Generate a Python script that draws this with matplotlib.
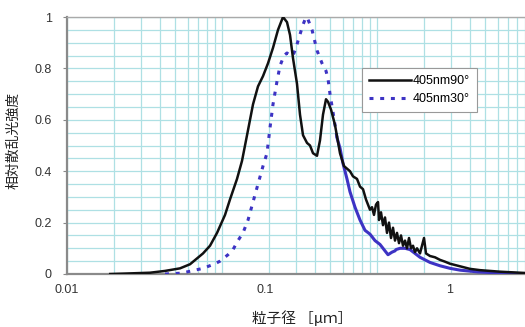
import matplotlib
matplotlib.use("Agg")
import matplotlib.pyplot as plt
from matplotlib.ticker import LogLocator, MultipleLocator, NullFormatter
from matplotlib.transforms import ScaledTranslation

# particle size [um] vs relative scattered intensity
size_90 = [0.019, 0.0244, 0.0343, 0.0429, 0.0536, 0.0622, 0.0754, 0.0837, 0.0929, 0.1046,
           0.1126, 0.125, 0.1346, 0.1472, 0.1585, 0.1707, 0.1839, 0.1981, 0.2133, 0.2298,
           0.2475, 0.2626, 0.2747, 0.2871, 0.3047, 0.3186, 0.3332, 0.3536, 0.3697, 0.3865,
           0.4101, 0.4288, 0.4483, 0.4688, 0.483, 0.5049, 0.5358, 0.5771, 0.6124, 0.6402,
           0.6694, 0.70, 0.743, 0.777, 0.8123, 0.8492, 0.8747, 0.9013, 0.9284, 0.9564,
           0.9852, 1.015, 1.0302, 1.0612, 1.0933, 1.1262, 1.1602, 1.1953, 1.2311, 1.2684,
           1.3066, 1.3461, 1.3867, 1.4286, 1.4716, 1.516, 1.5615, 1.6087, 1.6573, 1.7075,
           1.759, 1.812, 1.8941, 2.0101, 2.0706, 2.1978, 2.3669, 2.5499, 2.7462, 2.958,
           3.4316, 3.9811, 4.618, 6.217, 9.0125]
int_90 = [0, 0.002, 0.005, 0.012, 0.022, 0.038, 0.08, 0.11, 0.16, 0.23,
          0.29, 0.37, 0.44, 0.56, 0.66, 0.73, 0.77, 0.82, 0.88, 0.95,
          1.0, 0.98, 0.93, 0.84, 0.74, 0.62, 0.54, 0.51, 0.50, 0.47,
          0.46, 0.52, 0.62, 0.68, 0.67, 0.64, 0.58, 0.47, 0.42, 0.41,
          0.40, 0.38, 0.37, 0.34, 0.33, 0.29, 0.27, 0.25, 0.26, 0.23,
          0.27, 0.28, 0.21, 0.24, 0.19, 0.22, 0.16, 0.20, 0.14, 0.18,
          0.13, 0.16, 0.12, 0.15, 0.11, 0.13, 0.10, 0.14, 0.10, 0.11,
          0.085, 0.10, 0.08, 0.14, 0.08, 0.07, 0.065, 0.055, 0.048, 0.04,
          0.03, 0.02, 0.015, 0.009, 0.004]

size_30 = [0.0429, 0.0536, 0.0594, 0.0754, 0.0902, 0.0971, 0.1093, 0.1178, 0.1268, 0.1366,
           0.1472, 0.1585, 0.1707, 0.1839, 0.1951, 0.2041, 0.2133, 0.2264, 0.2367, 0.2512,
           0.2626, 0.2747, 0.2871, 0.3001, 0.3139, 0.3332, 0.3483, 0.3589, 0.3808, 0.4101,
           0.4418, 0.4688, 0.483, 0.4975, 0.5201, 0.5519]
int_30 = [0, 0.003, 0.008, 0.022, 0.04, 0.05, 0.075, 0.095, 0.13, 0.16,
          0.21, 0.28, 0.35, 0.42, 0.47, 0.57, 0.66, 0.75, 0.81, 0.85,
          0.86, 0.85, 0.85, 0.88, 0.92, 0.97, 1.0, 0.99, 0.95, 0.87,
          0.82, 0.79, 0.76, 0.70, 0.63, 0.53]

# tail of the 30 deg curve (drawn solid in the original)
size_30_tail = [0.5519, 0.5771, 0.6035, 0.6402, 0.6694, 0.7211, 0.777, 0.8367, 0.9013, 0.9707,
                1.0456, 1.0933, 1.1262, 1.1776, 1.2496, 1.3066, 1.3262, 1.4075, 1.516, 1.6329,
                1.759, 1.8941, 2.1978, 2.5499, 2.958, 3.4316, 4.483, 6.217, 9.0125]
int_30_tail = [0.53, 0.49, 0.43, 0.37, 0.32, 0.26, 0.21, 0.17, 0.155, 0.13,
               0.115, 0.10, 0.09, 0.075, 0.085, 0.09, 0.095, 0.10, 0.10, 0.095,
               0.08, 0.065, 0.045, 0.032, 0.022, 0.015, 0.008, 0.004, 0.001]

x_ticks = [0.01, 0.1, 1]
x_tick_labels = ["0.01", "0.1", "1"]
y_ticks = [0, 0.2, 0.4, 0.6, 0.8, 1.0]
y_tick_labels = ["0", "0.2", "0.4", "0.6", "0.8", "1"]

BLACK = "#111111"
BLUE = "#3d33c4"
GRID = "#aee0e4"
CJK = ["Noto Sans CJK JP", "DejaVu Sans"]
NUM = ["Liberation Sans", "DejaVu Sans"]

fig = plt.figure(figsize=(5.25, 3.27), dpi=100)
ax = fig.add_axes([67 / 525, 53 / 327, 458 / 525, 257 / 327])

ax.plot(size_90, int_90, "-", color=BLACK, lw=1.8, label="405nm90°", zorder=4)
ax.plot(size_30, int_30, color=BLUE, lw=2.2, ls=(0, (1.3, 2.2)), label="405nm30°", zorder=3)
ax.plot(size_30_tail, int_30_tail, "-", color=BLUE, lw=2.2, zorder=3)

ax.set_xscale("log")
ax.set_xlim(0.01, 9.0125)
ax.set_ylim(0, 1)

ax.xaxis.set_major_locator(LogLocator(base=10))
ax.xaxis.set_minor_locator(LogLocator(base=10, subs=range(2, 10)))
ax.xaxis.set_minor_formatter(NullFormatter())
ax.set_xticks(x_ticks)
ax.set_xticklabels(x_tick_labels, family=NUM, fontsize=9, color="#333333")
ax.set_yticks(y_ticks)
ax.set_yticklabels(y_tick_labels, family=NUM, fontsize=9, color="#333333")
ax.yaxis.set_minor_locator(MultipleLocator(0.05))

ax.grid(True, which="both", color=GRID, lw=0.9)
ax.set_axisbelow(True)
ax.tick_params(axis="x", which="both", length=0, pad=7)
ax.tick_params(axis="y", which="major", length=3, color="#888888", pad=8)
ax.tick_params(axis="y", which="minor", length=0)

# the original places the x labels to the right of their grid lines
for lab, dx in zip(ax.get_xticklabels(), [0.0, 0.43, 0.73]):
    lab.set_transform(lab.get_transform() + ScaledTranslation(dx, 0, fig.dpi_scale_trans))

for side in ["left", "bottom"]:
    ax.spines[side].set_color("#8a8a8a")
    ax.spines[side].set_linewidth(1.6)
ax.spines["top"].set_color("#aaaaaa")
ax.spines["top"].set_linewidth(1.0)
ax.spines["right"].set_visible(False)

ax.set_xlabel("粒子径 ［μｍ］", family=CJK, fontsize=10.5, color="#222222")
ax.xaxis.set_label_coords(0.513, -0.14)
ax.set_ylabel("相対散乱光強度", family=CJK, fontsize=10, color="#222222")
ax.yaxis.set_label_coords(-0.102, 0.52)

leg = ax.legend(loc="upper left", bbox_to_anchor=(0.644, 0.80), borderaxespad=0,
                prop={"family": NUM, "size": 9}, handlelength=3.4, handletextpad=0.1,
                fancybox=False, framealpha=1, edgecolor="#999999",
                borderpad=0.55, labelspacing=0.45)
leg.get_frame().set_linewidth(0.8)

fig.savefig("out.png", dpi=100)
